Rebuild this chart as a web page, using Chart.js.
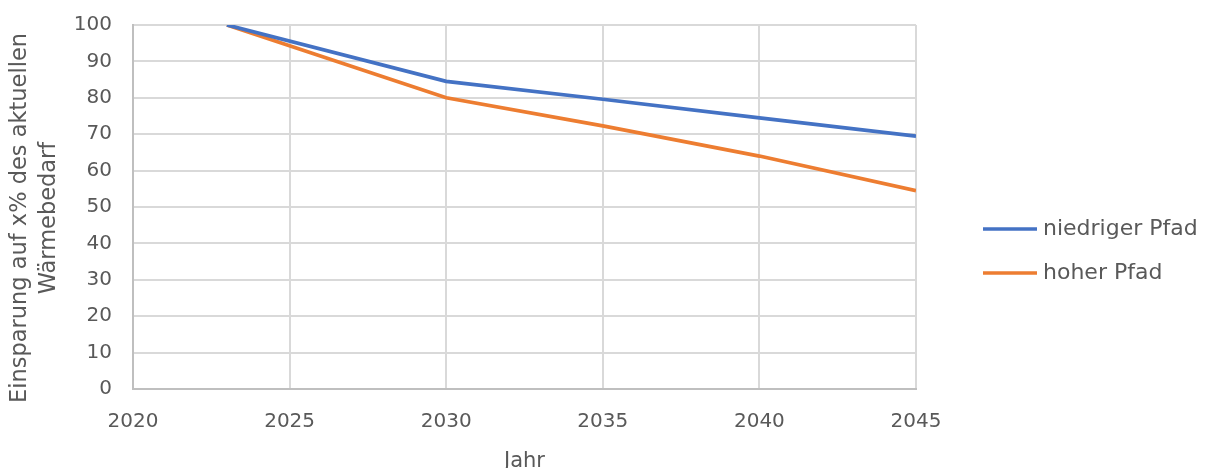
<!DOCTYPE html>
<html>
<head>
<meta charset="utf-8">
<script src="https://cdn.jsdelivr.net/npm/chart.js@4.4.1/dist/chart.umd.min.js"></script>
<style>
  html, body { margin: 0; padding: 0; background: #fff; overflow: hidden; }
  #wrap { width: 1206px; height: 468px; position: relative; overflow: hidden; }
</style>
</head>
<body>
<div id="wrap"><canvas id="c" width="1206" height="468"></canvas></div>
<script>
// Jahre und Verläufe der beiden Pfade (Wärmebedarf in % des heutigen Werts)
const years = [2023, 2030, 2035, 2040, 2045];
const niedrigerPfad = [100, 84.5, 79.6, 74.5, 69.5];
const hoherPfad = [100, 80, 72.3, 64, 54.5];
const seriesNames = ['niedriger Pfad', 'hoher Pfad'];
const xTickValues = [2020, 2025, 2030, 2035, 2040, 2045];
const yTickValues = [0, 10, 20, 30, 40, 50, 60, 70, 80, 90, 100];
const xTitle = 'Jahr';
const yTitle = ['Einsparung auf x% des aktuellen', 'Wärmebedarf'];

const FONT = '"DejaVu Sans", sans-serif';
const TEXT = '#595959';
const GRID = '#D9D9D9';

const toPoints = vals => years.map((y, i) => ({ x: y, y: vals[i] }));

// Legende rechts neben dem Diagramm: kurze Linie + Bezeichnung
const sideLegend = {
  id: 'sideLegend',
  afterDraw(chart) {
    const ctx = chart.ctx;
    const area = chart.chartArea;
    const x0 = area.right + 67;
    const rows = [229, 273];
    ctx.save();
    chart.data.datasets.forEach((ds, i) => {
      const y = rows[i];
      ctx.strokeStyle = ds.borderColor;
      ctx.lineWidth = 3.5;
      ctx.lineCap = 'butt';
      ctx.beginPath();
      ctx.moveTo(x0, y);
      ctx.lineTo(x0 + 54, y);
      ctx.stroke();
      ctx.fillStyle = TEXT;
      ctx.font = '22px ' + FONT;
      ctx.textBaseline = 'middle';
      ctx.textAlign = 'left';
      ctx.fillText(ds.label, x0 + 60, y);
    });
    ctx.restore();
  }
};

// Zweizeiliger Titel der Y-Achse, senkrecht links
const yAxisTitle = {
  id: 'yAxisTitle',
  afterDraw(chart) {
    const ctx = chart.ctx;
    const area = chart.chartArea;
    const cy = (area.top + area.bottom) / 2 + 11;
    ctx.save();
    ctx.translate(20, cy);
    ctx.rotate(-Math.PI / 2);
    ctx.fillStyle = TEXT;
    ctx.font = '22.5px ' + FONT;
    ctx.textAlign = 'center';
    ctx.textBaseline = 'middle';
    yTitle.forEach((line, i) => ctx.fillText(line, 0, i * 29));
    ctx.restore();
  }
};

new Chart(document.getElementById('c'), {
  type: 'line',
  data: {
    datasets: [
      {
        label: seriesNames[0],
        data: toPoints(niedrigerPfad),
        borderColor: '#4472C4',
        backgroundColor: '#4472C4',
        borderWidth: 3.75,
        pointRadius: 0,
        tension: 0
      },
      {
        label: seriesNames[1],
        data: toPoints(hoherPfad),
        borderColor: '#ED7D31',
        backgroundColor: '#ED7D31',
        borderWidth: 3.75,
        pointRadius: 0,
        tension: 0
      }
    ]
  },
  options: {
    responsive: false,
    animation: false,
    layout: { padding: { top: 25, right: 290, bottom: 0, left: 0 } },
    plugins: {
      legend: { display: false },
      tooltip: { enabled: false }
    },
    scales: {
      x: {
        type: 'linear',
        min: xTickValues[0],
        max: xTickValues[xTickValues.length - 1],
        afterBuildTicks: s => { s.ticks = xTickValues.map(v => ({ value: v })); },
        afterFit: s => { s.height = 79; s.paddingLeft = 0; s.paddingRight = 0; },
        ticks: {
          color: TEXT,
          font: { family: FONT, size: 20 },
          padding: 21,
          callback: v => String(v)
        },
        grid: { color: GRID, lineWidth: 2, drawTicks: false },
        border: { color: '#BFBFBF', width: 2 },
        title: {
          display: true,
          text: xTitle,
          color: TEXT,
          font: { family: FONT, size: 21 },
          padding: { top: 0, bottom: -6 }
        }
      },
      y: {
        min: 0,
        max: 100,
        afterBuildTicks: s => { s.ticks = yTickValues.map(v => ({ value: v })); },
        afterFit: s => { s.width = 133; s.paddingTop = 0; s.paddingBottom = 0; },
        ticks: {
          color: TEXT,
          font: { family: FONT, size: 20 },
          padding: 21
        },
        grid: { color: GRID, lineWidth: 2, drawTicks: false },
        border: { color: '#BFBFBF', width: 2 }
      }
    }
  },
  plugins: [sideLegend, yAxisTitle]
});
</script>
</body>
</html>
